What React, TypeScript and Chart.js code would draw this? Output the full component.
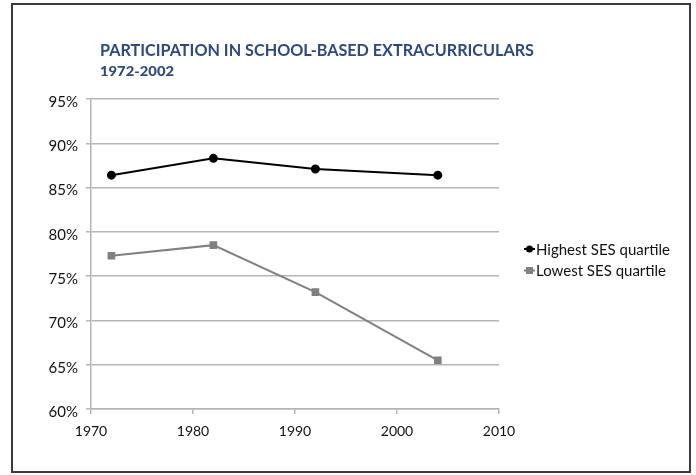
import React, { useEffect, useRef } from "react";
import { Chart, registerables } from "chart.js";

Chart.register(...registerables);

const years = [1972, 1982, 1992, 2004];
const highestSES = [86.4, 88.3, 87.1, 86.4];
const lowestSES = [77.3, 78.5, 73.2, 65.5];
const seriesLabels = ["Highest SES quartile", "Lowest SES quartile"];
const titleText = "PARTICIPATION IN SCHOOL-BASED EXTRACURRICULARS";
const subtitleText = "1972-2002";
const xMin = 1970;
const xMax = 2010;
const xStep = 10;
const yMin = 60;
const yMax = 95;
const yStep = 5;

const FONT = "Lato, 'Open Sans', sans-serif";
const NAVY = "#2e4a7d";

function fitText(ctx: any, text: string, x: number, y: number, target: number) {
  const w = ctx.measureText(text).width;
  ctx.save();
  ctx.translate(x, y);
  ctx.scale(target / w, 1);
  ctx.fillText(text, 0, 0);
  ctx.restore();
}

const decorPlugin = {
  id: "decor",
  beforeDraw(chart: any) {
    const ctx = chart.ctx;
    ctx.save();
    ctx.fillStyle = "#ffffff";
    ctx.fillRect(0, 0, chart.width, chart.height);
    ctx.strokeStyle = "#3a3a3a";
    ctx.lineWidth = 2;
    ctx.strokeRect(12, 4, 678, 468);
    ctx.restore();
  },
  afterDraw(chart: any) {
    const ctx = chart.ctx;
    ctx.save();
    ctx.fillStyle = NAVY;
    ctx.textBaseline = "alphabetic";
    ctx.textAlign = "left";
    ctx.font = `bold 17px ${FONT}`;
    fitText(ctx, titleText, 100, 56, 434);
    ctx.font = `900 13px ${FONT}`;
    fitText(ctx, subtitleText, 100, 76, 74);

    const datasets = chart.data.datasets;
    datasets.forEach((ds: any, i: number) => {
      const y = 249 + i * 21.5;
      const x0 = 524;
      ctx.strokeStyle = ds.borderColor;
      ctx.lineWidth = 2;
      ctx.beginPath();
      ctx.moveTo(x0, y);
      ctx.lineTo(x0 + 11, y);
      ctx.stroke();
      ctx.fillStyle = ds.pointBackgroundColor;
      const cx = x0 + 5.5;
      if (ds.pointStyle === "rect") {
        ctx.fillRect(cx - 3.5, y - 3.5, 7, 7);
      } else {
        ctx.beginPath();
        ctx.arc(cx, y, 3.5, 0, Math.PI * 2);
        ctx.fill();
      }
      ctx.fillStyle = "#111111";
      ctx.font = `15px ${FONT}`;
      ctx.textBaseline = "middle";
      ctx.fillText(ds.label, x0 + 12, y + 1);
    });
    ctx.restore();
  },
};

export default function App() {
  const ref = useRef<HTMLCanvasElement | null>(null);
  useEffect(() => {
    document.body.style.margin = "0";
    const canvas = ref.current!;
    const chart = new Chart(canvas, {
      type: "line",
      data: {
        datasets: [
          {
            label: seriesLabels[0],
            data: years.map((x, i) => ({ x, y: highestSES[i] })),
            borderColor: "#000000",
            backgroundColor: "#000000",
            pointBackgroundColor: "#000000",
            pointBorderColor: "#000000",
            pointStyle: "circle",
            pointRadius: 3.5,
            borderWidth: 2,
            tension: 0,
          },
          {
            label: seriesLabels[1],
            data: years.map((x, i) => ({ x, y: lowestSES[i] })),
            borderColor: "#808080",
            backgroundColor: "#808080",
            pointBackgroundColor: "#808080",
            pointBorderColor: "#808080",
            pointStyle: "rect",
            pointRadius: 4,
            borderWidth: 2,
            tension: 0,
          },
        ],
      },
      options: {
        responsive: false,
        animation: false,
        devicePixelRatio: 1,
        layout: { padding: { top: 99, left: 0, right: 197, bottom: 0 } },
        plugins: {
          legend: { display: false },
          title: { display: false },
          tooltip: { enabled: false },
        },
        scales: {
          x: {
            type: "linear",
            min: xMin,
            max: xMax,
            afterFit(scale: any) {
              scale.height = 475 - 409;
            },
            ticks: {
              stepSize: xStep,
              padding: 9,
              color: "#111111",
              font: { family: FONT, size: 14 },
              callback: (v: any) => String(v),
            },
            grid: {
              drawOnChartArea: false,
              drawTicks: true,
              tickLength: 5,
              color: "#b5b5b5",
              lineWidth: 1.5,
            },
            border: { display: true, color: "#b5b5b5", width: 1.5 },
          },
          y: {
            min: yMin,
            max: yMax,
            afterFit(scale: any) {
              scale.width = 91;
            },
            ticks: {
              stepSize: yStep,
              padding: 8,
              labelOffset: 3,
              color: "#111111",
              font: { family: FONT, size: 15 },
              callback: (v: any) => v + "%",
            },
            grid: {
              color: "#b5b5b5",
              lineWidth: 1.5,
              tickLength: 5,
            },
            border: { display: true, color: "#b5b5b5", width: 1.5 },
          },
        },
      },
      plugins: [decorPlugin],
    });
    return () => chart.destroy();
  }, []);
  return (
    <div style={{ width: 696, height: 475 }}>
      <canvas ref={ref} width={696} height={475} style={{ display: "block" }} />
    </div>
  );
}
